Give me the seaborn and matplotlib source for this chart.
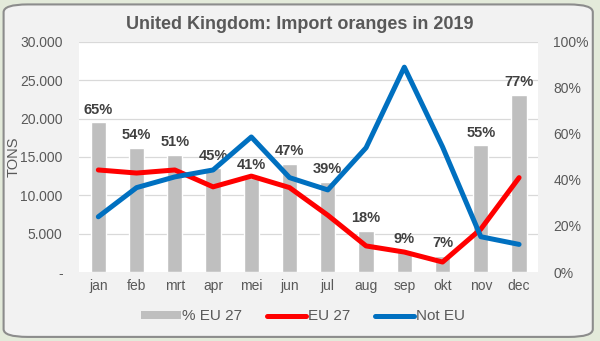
import matplotlib
matplotlib.use("Agg")
import matplotlib.pyplot as plt
from matplotlib.patches import FancyBboxPatch, Patch
from matplotlib.lines import Line2D
from matplotlib.ticker import FuncFormatter, MultipleLocator
import seaborn as sns
import pandas as pd

# Monthly import volumes (tons) and EU share (%)
months = ["jan", "feb", "mrt", "apr", "mei", "jun", "jul", "aug", "sep", "okt", "nov", "dec"]
eu27_tons = [13300, 12900, 13300, 11100, 12500, 11000, 7400, 3400, 2600, 1300, 5600, 12300]
not_eu_tons = [7200, 11000, 12400, 13300, 17600, 12300, 10700, 16200, 26700, 16300, 4600, 3600]
eu_share_pct = [65, 54, 51, 45, 41, 47, 39, 18, 9, 7, 55, 77]

df = pd.DataFrame({"month": months, "eu27": eu27_tons, "noteu": not_eu_tons, "share": eu_share_pct})

sns.set_theme(style="white")
plt.rcParams["font.family"] = ["Liberation Sans", "DejaVu Sans"]

text_col = "#595959"
fig = plt.figure(figsize=(6.0, 3.41), dpi=100)
fig.patch.set_facecolor("#e3eada")

# rounded chart frame, kept behind the axes
frame = FancyBboxPatch((0.006, 0.012), 0.982, 0.975,
                       boxstyle="round,pad=0,rounding_size=0.04",
                       transform=fig.transFigure, facecolor="#f2f2f2",
                       edgecolor="#8c8c8c", linewidth=1.5, zorder=-10,
                       mutation_aspect=341 / 600)
fig.patches.append(frame)

ax2 = fig.add_axes([0.132, 0.2023, 0.765, 0.675])
ax2.set_facecolor("white")
ax = ax2.twinx()
ax.patch.set_visible(False)

x = list(range(len(months)))

# horizontal gridlines behind everything
for v in range(5000, 30001, 5000):
    ax2.axhline(v / 300, color="#d9d9d9", linewidth=0.9, zorder=0)

# share bars on the right-hand percentage scale
sns.barplot(data=df, x="month", y="share", ax=ax2, color="#bfbfbf",
            width=0.4, saturation=1, zorder=1)
ax2.set_ylim(0, 100)
for xi, v in zip(x, eu_share_pct):
    ax2.text(xi, v + 2.5, f"{v}%", ha="center", va="bottom", fontsize=10.5,
             fontweight="bold", color="#404040", zorder=5)

# tonnage lines on the left-hand scale, drawn over the bars
sns.lineplot(data=df, x="month", y="eu27", ax=ax, color="#ff0000", linewidth=3.6,
             sort=False, zorder=3)
sns.lineplot(data=df, x="month", y="noteu", ax=ax, color="#0070c0", linewidth=3.6,
             sort=False, zorder=4)

ax.set_ylim(0, 30000)
ax.set_xlim(-0.5, 11.5)

# put the tonnage scale on the left and the percentage scale on the right
ax.yaxis.tick_left()
ax.yaxis.set_label_position("left")
ax2.yaxis.tick_right()

ax.yaxis.set_major_locator(MultipleLocator(5000))
ax.yaxis.set_major_formatter(FuncFormatter(
    lambda v, p: "-" if v == 0 else f"{int(v):,}".replace(",", ".")))
ax2.yaxis.set_major_locator(MultipleLocator(20))
ax2.yaxis.set_major_formatter(FuncFormatter(lambda v, p: f"{int(v)}%"))

for a in (ax, ax2):
    for s in a.spines.values():
        s.set_visible(False)
    a.tick_params(length=0, colors=text_col, labelsize=10)
ax.tick_params(axis="y", pad=12)
ax2.tick_params(axis="y", pad=11)
ax2.tick_params(axis="x", pad=5)
ax2.set_xlabel("")
ax2.set_ylabel("")
ax.set_xlabel("")
ax.set_ylabel("TONS", color=text_col, fontsize=10.5)
ax.yaxis.set_label_coords(-0.127, 0.5)

fig.text(0.5, 0.928, "United Kingdom: Import oranges in 2019", ha="center", va="center",
         fontsize=13, fontweight="bold", color=text_col)

handles = [Patch(facecolor="#bfbfbf", edgecolor="none"),
           Line2D([0], [0], color="#ff0000", linewidth=3.6),
           Line2D([0], [0], color="#0070c0", linewidth=3.6)]
fig.legend(handles, ["% EU 27", "EU 27", "Not EU"], loc="center",
           bbox_to_anchor=(0.505, 0.072), ncol=3, frameon=False,
           fontsize=11, labelcolor=text_col, handlelength=2.6,
           handletextpad=0.1, columnspacing=1.6, handleheight=0.5)

fig.savefig("out.png", dpi=100, facecolor=fig.get_facecolor())
